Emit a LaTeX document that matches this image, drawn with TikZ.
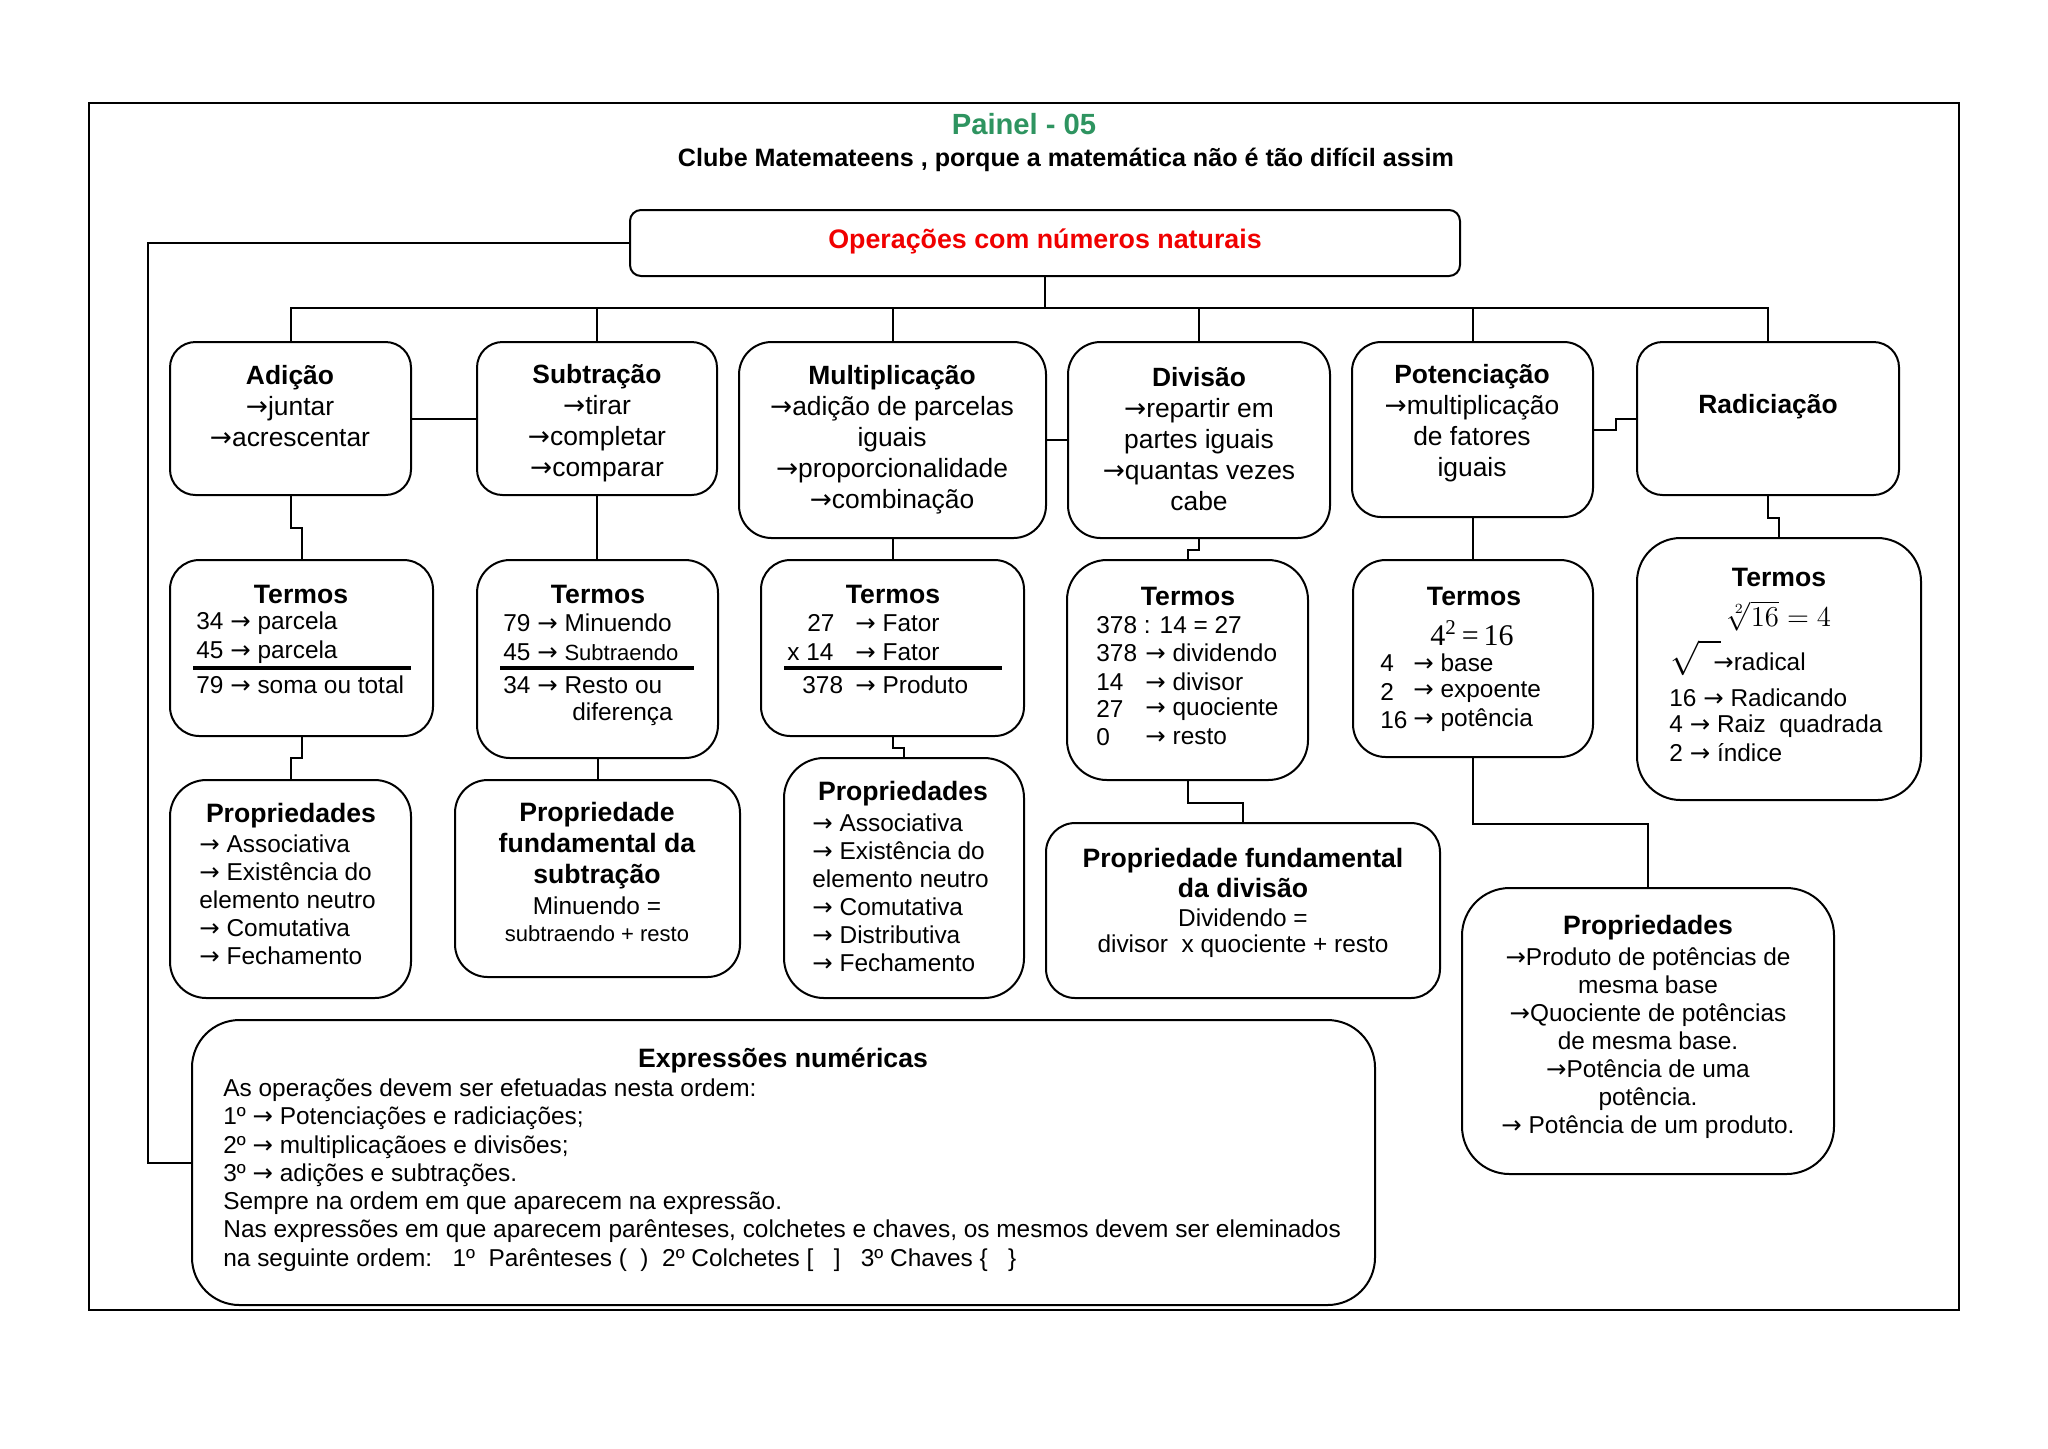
\documentclass[tikz,border=0pt]{standalone}
\usepackage{fontspec}
\usepackage{newunicodechar}
\setmainfont{Liberation Sans}
\newfontfamily\serifnum{Liberation Serif}
\newfontfamily\arrowfont{DejaVu Sans}
\newunicodechar{→}{{\arrowfont\char"2192}}
\usepackage{graphicx}
\definecolor{titlegreen}{HTML}{2E9460}
\definecolor{opred}{HTML}{F00000}
\newcommand\BX[6]{\node[bx, rounded corners=#6, minimum width=#4*0.5pt, minimum height=#5*0.5pt] (#1) at (#2,#3) {};}
\tikzset{
 bx/.style={draw, line width=1pt, inner sep=0pt},
 ln/.style={line width=1pt},
 hd/.style={font=\bfseries\fontsize{13.3}{15.5}\selectfont, align=center, inner sep=0pt},
 big/.style={font=\fontsize{13.2}{15.5}\selectfont, align=center, inner sep=0pt},
 body/.style={font=\fontsize{12.2}{14.1}\selectfont, inner sep=0pt},
 bodyl/.style={font=\fontsize{12.2}{14}\selectfont, inner sep=0pt, align=left, anchor=west},
 bw/.style={body, anchor=west},
 small/.style={font=\fontsize{11}{13}\selectfont, inner sep=0pt},
 rulebar/.style={line width=2pt},
}
\begin{document}
\begin{tikzpicture}[x=0.5pt,y=-0.5pt]
\useasboundingbox (0,0) rectangle (2048,1448);
\draw[ln] (89,103) rectangle (1959,1310);

% titles
\node[font=\bfseries\fontsize{14.6}{16}\selectfont, text=titlegreen, inner sep=0pt] (title) at (1024,124) {Painel - 05};
\node[inner sep=0pt] (subtitle) at (1066,160) {\resizebox{388pt}{!}{\bfseries Clube Matemateens , porque a matemática não é tão difícil assim}};

% top box
\BX{top}{1045}{243}{830}{66}{5.5pt}
\node[font=\bfseries\fontsize{13.4}{16}\selectfont, text=opred, inner sep=0pt] (topt) at (1045,241) {Operações com números naturais};

% row 1
\BX{adicao}{290.5}{418.5}{241}{153}{12.75pt}
\BX{subtr}{597}{418.5}{240}{153}{12.75pt}
\BX{mult}{892.5}{440}{307}{196}{16.3pt}
\BX{divis}{1199}{440}{262}{196}{16.3pt}
\BX{poten}{1472.5}{429.5}{241}{175}{14.6pt}
\BX{radic}{1768}{418.5}{262}{153}{12.75pt}
\node[big] (adicaoT) at (290,406) {\textbf{Adição}\\→juntar\\→acrescentar};
\node[big] (subtrT) at (597,423) {\textbf{Subtração}\\→tirar\\→completar\\→comparar};
\node[big] (multT) at (892,440) {\textbf{Multiplicação}\\→adição de parcelas\\iguais\\→proporcionalidade\\→combinação};
\node[big] (divisT) at (1199,439) {\textbf{Divisão}\\→repartir em\\partes iguais\\→quantas vezes\\cabe};
\node[big] (potenT) at (1472,423) {\textbf{Potenciação}\\→multiplicação\\de fatores\\iguais};
\node[big] (radicT) at (1768,407) {\textbf{Radiciação}};

% row 2
\BX{tAd}{301.5}{648}{263}{176}{14.7pt}
\BX{tSub}{597.5}{659}{241}{198}{16.5pt}
\BX{tMul}{892.5}{648}{263}{176}{14.7pt}
\BX{tDiv}{1187.5}{670}{241}{220}{20pt}
\BX{tPot}{1473}{658.5}{240}{197}{16.4pt}
\BX{tRad}{1779}{669}{284}{262}{21.8pt}

\node[hd] (tAdH) at (301,594) {Termos};
\node[bw] (tAd1) at (196,623) {34 → parcela};
\node[bw] (tAd2) at (196,652) {45 → parcela};
\draw[rulebar] (193,668) -- (411,668);
\node[bw] (tAd3) at (196,685) {79 → soma ou total};

\node[hd] (tSubH) at (598,594) {Termos};
\node[bw] (tSub1) at (503,623) {79 → Minuendo};
\node[bw] (tSub2) at (503,652) {45 → {\fontsize{11}{13}\selectfont Subtraendo}};
\draw[rulebar] (500,668) -- (694,668);
\node[bw] (tSub3) at (503,685) {34 → Resto ou};
\node[bw] (tSub4) at (572,714) {diferença};

\node[hd] (tMulH) at (893,594) {Termos};
\node[bw] (tMulA) at (807,623) {27};
\node[bw] (tMulB) at (855,623) {→ Fator};
\node[bw] (tMulC) at (787,652) {x 14};
\node[bw] (tMulD) at (855,652) {→ Fator};
\draw[rulebar] (784,668) -- (1002,668);
\node[bw] (tMulE) at (802,685) {378};
\node[bw] (tMulF) at (855,685) {→ Produto};

\node[hd] (tDivH) at (1188,596) {Termos};
\node[bw] (tDiv0) at (1096,625) {378 : 14 = 27};
\node[bw] (tDivA) at (1096,653) {378};
\node[bw] (tDivB) at (1145,653) {→ dividendo};
\node[bw] (tDivC) at (1096,682) {14};
\node[bw] (tDivD) at (1145,682) {→ divisor};
\node[bw] (tDivE) at (1096,709) {27};
\node[bw] (tDivF) at (1145,709) {→ quociente};
\node[bw] (tDivG) at (1096,737) {0};
\node[bw] (tDivI) at (1145,737) {→ resto};

\node[hd] (tPotH) at (1474,596) {Termos};
\node[inner sep=0pt, font=\serifnum\fontsize{15}{17}\selectfont] (tPotEq) at (1472,633) {4\textsuperscript{2}\,=\,16};
\node[bw] (tPotA) at (1380,663) {4};
\node[bw] (tPotB) at (1413,663) {→ base};
\node[bw] (tPotC) at (1380,692) {2};
\node[bw] (tPotD) at (1413,692) {→ expoente};
\node[bw] (tPotE) at (1380,720) {16};
\node[bw] (tPotF) at (1413,720) {→ potência};

\node[hd] (tRadH) at (1779,577) {Termos};
\node[inner sep=0pt, font=\fontsize{14.5}{17}\selectfont] (tRadEq) at (1779,616) {$\sqrt[2]{16}=4$};
\node[inner sep=0pt, font=\fontsize{18}{20}\selectfont, anchor=west] (tRadS) at (1670,658) {$\sqrt{\vphantom{1}\hspace{0.6em}}$};
\node[bw] (tRadA) at (1713,662) {→radical};
\node[bw] (tRadB) at (1669,698) {16 → Radicando};
\node[bw] (tRadC) at (1669,726) {4 → Raiz\ \ quadrada};
\node[bw] (tRadD) at (1669,753) {2 → índice};

% row 3
\BX{pAd}{290.5}{889}{241}{218}{18.2pt}
\BX{pSub}{597.5}{878.5}{285}{197}{16.4pt}
\BX{pMul}{904}{878}{240}{240}{20pt}
\BX{pDiv}{1243}{910.5}{394}{175}{14.6pt}
\BX{pPot}{1648}{1031}{372}{286}{23.8pt}
\BX{expr}{783.5}{1162.5}{1183}{285}{23.75pt}

\node[hd] (pAdH) at (291,816) {Propriedades};
\node[bodyl] (pAdB) at (199,900) {→ Associativa\\→ Existência do\\elemento neutro\\→ Comutativa\\→ Fechamento};

\node[hd] (pSubH) at (597,846) {Propriedade\\fundamental da\\subtração};
\node[body] (pSubB) at (597,906) {Minuendo =};
\node[small] (pSubC) at (597,934) {subtraendo + resto};

\node[hd] (pMulH) at (903,794) {Propriedades};
\node[bodyl] (pMulB) at (812,893) {→ Associativa\\→ Existência do\\elemento neutro\\→ Comutativa\\→ Distributiva\\→ Fechamento};

\node[hd, font=\bfseries\fontsize{13.3}{15}\selectfont] (pDivH) at (1243,873) {Propriedade fundamental\\da divisão};
\node[body] (pDivB) at (1243,918) {Dividendo =};
\node[body] (pDivC) at (1243,946) {divisor\ \ x quociente + resto};

\node[hd] (pPotH) at (1648,928) {Propriedades};
\node[body, align=center, font=\fontsize{12.2}{14}\selectfont] (pPotB) at (1648,1043) {→Produto de potências de\\mesma base\\→Quociente de potências\\de mesma base.\\→Potência de uma\\potência.\\→ Potência de um produto.};

\node[hd] (exprH) at (783,1060) {Expressões numéricas};
\node[bodyl, font=\fontsize{12.2}{14.15}\selectfont] (exprB) at (223,1175) {As operações devem ser efetuadas nesta ordem:\\1º → Potenciações e radiciações;\\2º → multiplicaçãoes e divisões;\\3º → adições e subtrações.\\Sempre na ordem em que aparecem na expressão.\\Nas expressões em que aparecem parênteses, colchetes e chaves, os mesmos devem ser eleminados\\na seguinte ordem:\ \ \ 1º\ \ Parênteses (\ \ )\ \ 2º Colchetes [\ \ \ ]\ \ \ 3º Chaves \{\ \ \ \}};

% connectors
\coordinate (bus) at (1045,308);
\coordinate (L) at (148,700);
\draw[ln] (top.south) -- (bus);
\draw[ln] (adicao.north) |- (bus);
\draw[ln] (radic.north) |- (bus);
\draw[ln] (subtr.north) -- (subtr.north |- bus);
\draw[ln] (mult.north) -- (mult.north |- bus);
\draw[ln] (divis.north) -- (divis.north |- bus);
\draw[ln] (poten.north) -- (poten.north |- bus);
\draw[ln] (top.west) -| (L) |- (expr.west);
\draw[ln] (adicao.east) -- (subtr.west);
\draw[ln] (mult.east) -- (divis.west);
\draw[ln] (poten.east) -- ++(22,0) |- (radic.west);
\draw[ln] (adicao.south) -- ++(0,32) -| (tAd.north);
\draw[ln] (subtr.south) -- (subtr.south |- tSub.north);
\draw[ln] (mult.south) -- (tMul.north);
\draw[ln] (divis.south) -- ++(0,11) -| (tDiv.north);
\draw[ln] (poten.south) -- (poten.south |- tPot.north);
\draw[ln] (radic.south) -- ++(0,22) -| (tRad.north);
\draw[ln] (tAd.south) -- ++(0,21) -| (pAd.north);
\draw[ln] (tSub.south) -- (pSub.north);
\draw[ln] (tMul.south) -- ++(0,11) -| (pMul.north);
\draw[ln] (tDiv.south) -- ++(0,22) -| (pDiv.north);
\draw[ln] (tPot.south) -- ++(0,66) -| (pPot.north);
\end{tikzpicture}
\end{document}
